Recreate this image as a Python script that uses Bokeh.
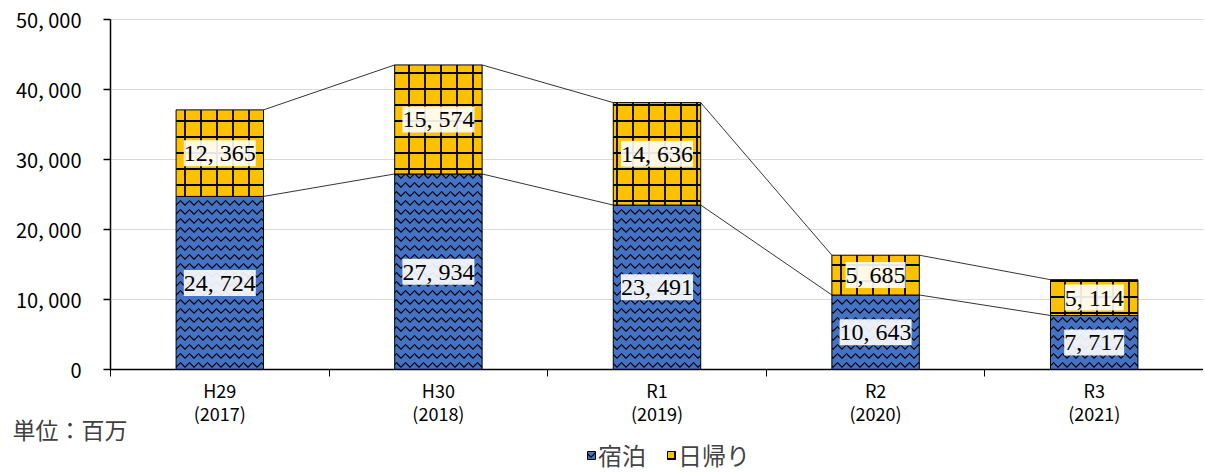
from bokeh.plotting import figure
from bokeh.models import (ColumnDataSource, FixedTicker, LabelSet, Label, Legend, LegendItem,
                          Range1d)
from bokeh.embed import file_html
from bokeh.resources import INLINE

categories = ["H29", "H30", "R1", "R2", "R3"]
years = ["2017", "2018", "2019", "2020", "2021"]
stay = [24724, 27934, 23491, 10643, 7717]      # 宿泊
day = [12365, 15574, 14636, 5685, 5114]        # 日帰り
y_ticks = [0, 10000, 20000, 30000, 40000, 50000]

def fmt(v):
    return f"{v:,}".replace(",", ", ")

n = len(categories)
xc = [i + 0.5 for i in range(n)]
tot = [s + d for s, d in zip(stay, day)]
bw = 0.4

src = ColumnDataSource(dict(
    x=xc, stay=stay, day=day, tot=tot,
    stay_mid=[s / 2 for s in stay],
    day_mid=[s + d / 2 for s, d in zip(stay, day)],
    stay_lbl=[fmt(v) for v in stay],
    day_lbl=[fmt(v) for v in day],
))

# frame covers the whole canvas; axes sit at 0 inside it
FW, FH = 1203, 472
TOP, BOT = 19, 369             # pixel rows of 50,000 and 0
px_x = (FW - 110) / n          # pixels per category
px_y = (BOT - TOP) / 50000     # pixels per unit
p = figure(frame_width=FW, frame_height=FH, output_backend="svg", toolbar_location=None,
           x_range=Range1d(-110 / px_x, n),
           y_range=Range1d(-(FH - BOT) / px_y, 50000 + TOP / px_y),
           min_border_left=0, min_border_right=0, min_border_top=0, min_border_bottom=0)
p.outline_line_color = None
p.background_fill_color = "white"
p.xgrid.visible = False
p.ygrid.visible = False

# horizontal grid lines at y ticks
p.segment(x0=0, x1=n, y0=y_ticks[1:], y1=y_ticks[1:], line_color="#d9d9d9", line_width=1)

# connector lines
for i in range(n - 1):
    x0 = xc[i] + bw / 2
    x1 = xc[i + 1] - bw / 2
    p.line([x0, x1], [stay[i], stay[i + 1]], line_color="black", line_width=0.8)
    p.line([x0, x1], [tot[i], tot[i + 1]], line_color="black", line_width=0.8)

r_stay = p.vbar(x="x", bottom=0, top="stay", width=bw, source=src,
                fill_color="#4472C4", line_color="black", line_width=1,
                hatch_pattern="horizontal_wave", hatch_color="black",
                hatch_scale=9, hatch_weight=1.2)
r_day = p.vbar(x="x", bottom="stay", top="tot", width=bw, source=src,
               fill_color="#FFC000", line_color="black", line_width=1,
               hatch_pattern="cross", hatch_color="black",
               hatch_scale=16, hatch_weight=1.8)

for col, lbl in (("stay_mid", "stay_lbl"), ("day_mid", "day_lbl")):
    p.add_layout(LabelSet(x="x", y=col, text=lbl, source=src,
                          text_align="center", text_baseline="middle",
                          text_font="Liberation Serif", text_font_size="24px",
                          text_color="black",
                          background_fill_color="white", background_fill_alpha=0.9))

# y axis
p.yaxis.fixed_location = 0
p.yaxis.bounds = (0, 50000)
p.yaxis.ticker = FixedTicker(ticks=y_ticks)
p.yaxis.major_label_overrides = {t: fmt(t) for t in y_ticks}
p.yaxis.minor_tick_line_color = None
p.yaxis.major_tick_in = 0
p.yaxis.major_tick_out = 7
p.yaxis.axis_line_color = "black"
p.yaxis.axis_line_width = 1.5
p.yaxis.major_tick_line_width = 1.5
p.yaxis.major_label_text_font = "Noto Sans CJK JP"
p.yaxis.major_label_text_font_size = "20px"
p.yaxis.major_label_text_color = "black"
p.yaxis.major_label_standoff = 22

# x axis
p.xaxis.fixed_location = 0
p.xaxis.bounds = (0, n)
p.xaxis.ticker = FixedTicker(ticks=xc, minor_ticks=list(range(n + 1)))
p.xaxis.major_label_overrides = {x: f"{c}\n({y})" for x, c, y in zip(xc, categories, years)}
p.xaxis.major_tick_in = 0
p.xaxis.major_tick_out = 0
p.xaxis.minor_tick_in = 0
p.xaxis.minor_tick_out = 7
p.xaxis.minor_tick_line_color = "black"
p.xaxis.axis_line_color = "black"
p.xaxis.axis_line_width = 1.5
p.xaxis.major_label_text_font = "Noto Sans CJK JP"
p.xaxis.major_label_text_font_size = "18px"
p.xaxis.major_label_text_color = "black"
p.xaxis.major_label_standoff = 0
p.xaxis.major_label_text_line_height = 0.9

p.add_layout(Label(x=-98 / px_x, y=-59 / px_y, text="単位：百万", text_baseline="middle",
                   text_font="Noto Sans CJK JP", text_font_size="23px", text_color="#404040"))

legend = Legend(items=[LegendItem(label="宿泊", renderers=[r_stay]),
                       LegendItem(label="日帰り", renderers=[r_day])],
                orientation="horizontal", location=(586, 0),
                label_text_font="Noto Sans CJK JP", label_text_font_size="24px",
                glyph_width=10, glyph_height=10, label_standoff=2, spacing=20,
                border_line_color=None, background_fill_alpha=0, margin=0, padding=0)
p.add_layout(legend, "center")

open("out.html", "w").write(file_html(p, INLINE))
